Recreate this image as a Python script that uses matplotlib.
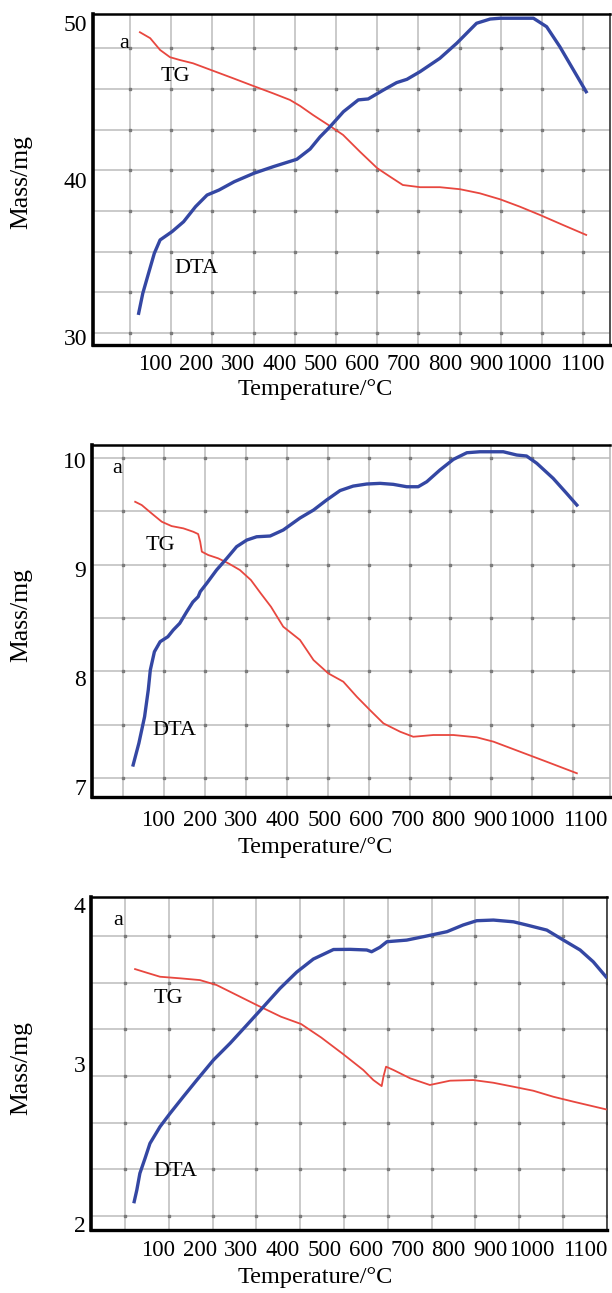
import numpy as np
import matplotlib
matplotlib.use('Agg')
import matplotlib.pyplot as plt
import matplotlib.transforms as mtransforms

plt.rcParams['font.family'] = ['Liberation Serif', 'DejaVu Serif']

# ---- data ----
# panel 1
temp_tg_1 = [24, 49, 73, 97, 121, 153, 201, 250, 299, 347, 388, 413, 444, 485, 517, 558,
             600, 631, 662, 704, 752, 801, 849, 898, 946, 995, 1051, 1107]
mass_tg_1 = [49.41, 49.03, 48.28, 47.82, 47.64, 47.43, 46.96, 46.48, 45.99, 45.52, 45.10,
             44.71, 44.14, 43.44, 42.87, 41.80, 40.75, 40.21, 39.68, 39.54, 39.54, 39.41,
             39.15, 38.77, 38.30, 37.77, 37.13, 36.50]
temp_dta_1 = [21, 31, 45, 59, 73, 102, 130, 159, 187, 216, 253, 301, 348, 405, 437, 461, 485,
              518, 554, 578, 615, 647, 672, 704, 752, 793, 841, 874, 898, 938, 979, 1011,
              1043, 1076, 1107]
mass_dta_1 = [31.51, 32.78, 34.06, 35.33, 36.18, 36.71, 37.34, 38.30, 39.04, 39.36, 39.89,
              40.43, 40.85, 41.32, 41.97, 42.74, 43.38, 44.35, 45.10, 45.16, 45.73, 46.20,
              46.41, 46.90, 47.75, 48.71, 49.98, 50.25, 50.30, 50.30, 50.30, 49.76, 48.49,
              47.01, 45.62]

# panel 2
temp_tg_2 = [29, 45, 69, 94, 118, 147, 171, 183, 188, 192, 208, 232, 257, 285, 312, 336, 361,
             391, 432, 465, 501, 538, 571, 603, 636, 677, 709, 758, 807, 864, 905, 970, 1035,
             1109]
mass_tg_2 = [9.618, 9.588, 9.512, 9.435, 9.395, 9.374, 9.343, 9.322, 9.251, 9.160, 9.129,
             9.099, 9.053, 8.992, 8.900, 8.778, 8.655, 8.472, 8.350, 8.166, 8.044, 7.967,
             7.829, 7.707, 7.585, 7.508, 7.462, 7.478, 7.478, 7.457, 7.417, 7.325, 7.233,
             7.127]
temp_dta_2 = [24, 38, 52, 61, 66, 76, 90, 109, 122, 138, 155, 170, 183, 188, 204, 228, 253,
              277, 302, 326, 359, 391, 432, 465, 497, 530, 562, 595, 628, 660, 693, 721, 742,
              774, 807, 840, 872, 929, 962, 986, 1011, 1051, 1084, 1109]
mass_dta_2 = [7.203, 7.402, 7.646, 7.891, 8.074, 8.242, 8.334, 8.380, 8.441, 8.503, 8.609,
              8.698, 8.747, 8.793, 8.870, 8.992, 9.099, 9.206, 9.267, 9.297, 9.304, 9.359,
              9.469, 9.542, 9.634, 9.721, 9.762, 9.781, 9.787, 9.778, 9.756, 9.756, 9.802,
              9.909, 10.007, 10.068, 10.077, 10.077, 10.047, 10.038, 9.971, 9.833, 9.695,
              9.588]

# panel 3
temp_tg_3 = [23, 50, 80, 126, 171, 209, 255, 301, 356, 402, 448, 498, 544, 567, 586, 590,
             596, 613, 651, 696, 742, 795, 841, 887, 932, 978, 1024, 1098]
mass_tg_3 = [3.599, 3.576, 3.551, 3.541, 3.530, 3.499, 3.436, 3.373, 3.300, 3.254, 3.169,
             3.065, 2.965, 2.902, 2.864, 2.923, 2.986, 2.965, 2.913, 2.871, 2.898, 2.902,
             2.885, 2.860, 2.835, 2.797, 2.766, 2.718]
temp_dta_3 = [21, 27, 34, 46, 57, 80, 103, 133, 164, 202, 240, 278, 316, 354, 392, 430, 476,
              514, 552, 563, 582, 598, 643, 689, 735, 772, 803, 841, 887, 917, 963, 1001,
              1039, 1069, 1098]
mass_dta_3 = [2.138, 2.211, 2.316, 2.412, 2.504, 2.609, 2.693, 2.797, 2.902, 3.028, 3.133,
              3.247, 3.362, 3.478, 3.580, 3.662, 3.722, 3.723, 3.719, 3.708, 3.736, 3.771,
              3.781, 3.807, 3.834, 3.876, 3.903, 3.907, 3.896, 3.876, 3.844, 3.781, 3.719,
              3.645, 3.551]

temp_labels = list(range(100, 1101, 100))
mass_ticks_1 = [30, 40, 50]
mass_ticks_2 = [7, 8, 9, 10]
mass_ticks_3 = [2, 3, 4]

W, H = 612, 1293
fig = plt.figure(figsize=(W / 100, H / 100), dpi=100)

red = '#e8473f'
blue = '#3447a3'


def panel(px, t_lim, g_lim, n_grid, m_lim, m_ticks, lab_lim, tg, dta, notes,
          right_col, xpad, xlab_y, ylab_y):
    left, top, right, bottom = px
    ax = fig.add_axes([left / W, 1 - bottom / H, (right - left) / W, (bottom - top) / H])
    ax.set_xlim(t_lim)
    ax.set_ylim(g_lim)
    ax.set_xticks(np.arange(0, 1101, 100))
    ax.set_yticks(np.arange(n_grid))
    ax.grid(True, color='#cacaca', lw=1.4)
    ax.tick_params(length=0, labelbottom=False, labelleft=False)
    gx, gy = np.meshgrid(ax.get_xticks(), ax.get_yticks())
    ax.plot(gx.ravel(), gy.ravel(), ls='none', marker='s', ms=1.6, color='#7a7a7a')
    ax.spines['left'].set_linewidth(2.6)
    ax.spines['bottom'].set_linewidth(2.4)
    ax.spines['top'].set_linewidth(1.8)
    ax.spines['right'].set_color(right_col)
    ax.spines['right'].set_linewidth(1.2)

    # curves + mass labels
    cx = ax.twinx()
    cx.yaxis.tick_left()
    cx.set_ylim(m_lim)
    cx.set_yticks(m_ticks)
    cx.tick_params(axis='y', length=0, pad=4, labelsize=17)
    for s in cx.spines.values():
        s.set_visible(False)
    cx.plot(tg[0], tg[1], color=red, lw=1.3)
    cx.plot(dta[0], dta[1], color=blue, lw=2.4)
    for (t, m, s) in notes:
        cx.text(t, m, s, ha='center', va='center', fontsize=16)

    # temperature labels
    tx = ax.twiny()
    tx.set_xlim(lab_lim)
    tx.set_xticks(temp_labels)
    tx.xaxis.set_ticks_position('bottom')
    tx.tick_params(axis='x', length=0, pad=xpad, labelsize=16.5)
    for s in tx.spines.values():
        s.set_visible(False)
    lab = tx.get_xticklabels()[-1]
    lab.set_transform(lab.get_transform() +
                      mtransforms.ScaledTranslation(12 / 100, 0, fig.dpi_scale_trans))

    fig.text(315 / W, 1 - xlab_y / H, 'Temperature/°C', ha='center', va='center',
             fontsize=17.5)
    fig.text(21 / W, 1 - ylab_y / H, 'Mass/mg', rotation=90, ha='center', va='center',
             fontsize=18.5)


panel((93, 14, 610, 345), (-89.8, 1164.8), (-0.295, 7.84), 8, (29.49, 50.57), mass_ticks_1,
      (-49.5, 1196.9), (temp_tg_1, mass_tg_1), (temp_dta_1, mass_dta_1),
      [(-14, 48.71, 'a'), (109, 46.56, 'TG'), (160, 34.39, 'DTA')],
      '#333333', 6.5, 390, 182)

panel((91.7, 445, 610, 796.7), (-77.3, 1190), (-0.35, 6.24), 7, (6.912, 10.139),
      mass_ticks_2, (-60.6, 1189.0), (temp_tg_2, mass_tg_2), (temp_dta_2, mass_dta_2),
      [(-16, 9.925, 'a'), (90, 9.221, 'TG'), (124, 7.524, 'DTA')],
      '#bbbbbb', 9.5, 848, 615)

panel((91, 897.3, 607.3, 1230), (-77.6, 1101.1), (-0.3, 6.83), 7, (1.960, 4.050),
      mass_ticks_3, (-62.2, 1182.4), (temp_tg_3, mass_tg_3), (temp_dta_3, mass_dta_3),
      [(-15, 3.907, 'a'), (99, 3.415, 'TG'), (115, 2.326, 'DTA')],
      '#333333', 7.2, 1278, 1068)

fig.savefig('out.png', dpi=100)
